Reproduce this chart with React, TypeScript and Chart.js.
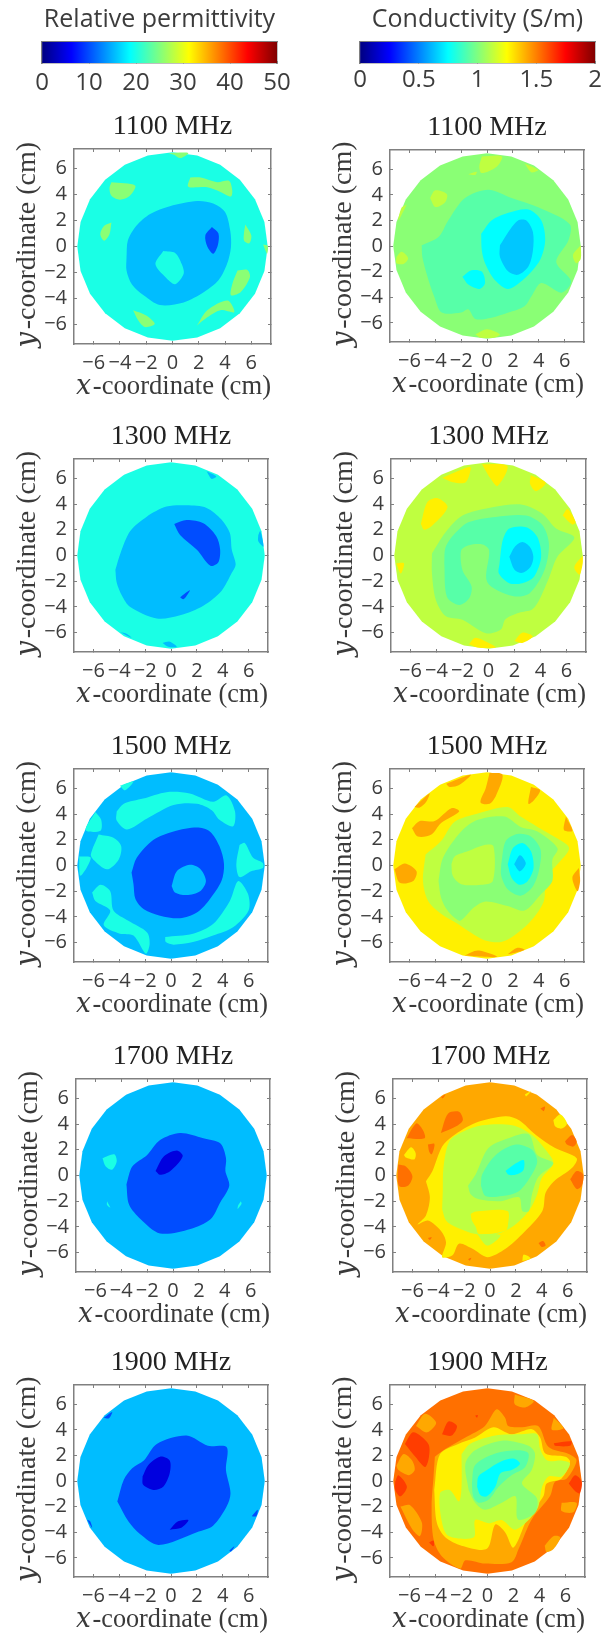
import React, { useEffect, useRef } from "react";
import { Chart, registerables } from "chart.js";

Chart.register(...registerables);

type Pt = [number, number];
type Layer = [number, Pt[]];

const tickValues = [-6, -4, -2, 0, 2, 4, 6];
const permTicks = [0, 10, 20, 30, 40, 50];
const condTicks = [0, 0.5, 1, 1.5, 2];
const jetStops = [0, 0.125, 0.375, 0.625, 0.875, 1];

const rim: Pt[] = [
  [7.25, 0], [7.0, 1.88], [6.28, 3.63], [5.13, 5.13], [3.63, 6.28], [1.88, 7.0], [0, 7.25], [-1.88, 7.0],
  [-3.63, 6.28], [-5.13, 5.13], [-6.28, 3.63], [-7.0, 1.88], [-7.25, 0], [-7.0, -1.88], [-6.28, -3.63],
  [-5.13, -5.13], [-3.63, -6.28], [-1.88, -7.0], [0, -7.25], [1.88, -7.0], [3.63, -6.28], [5.13, -5.13],
  [6.28, -3.63], [7.0, -1.88],
];

// contour levels, relative permittivity
const PD = 4.7, PB = 10, PS = 15.5, PT = 20, PG = 25.5;
// contour levels, conductivity (S/m)
const CS = 0.64, CC = 0.75, CA = 0.92, CG = 1.02, CY = 1.125, CW = 1.28, CO = 1.42, CD = 1.53, CR = 1.63;

const perm1100: Layer[] = [
  [PT, rim],
  [PS, [[-3.5, -0.8], [-3.4, 0.46], [-2.75, 1.6], [-1.7, 2.5], [-0.2, 3.1], [1.9, 3.5], [3.1, 3.3], [4.0, 2.65], [4.4, 1.2], [4.45, -0.05], [4.15, -1.35], [3.5, -2.6], [2.4, -3.5], [0.85, -4.3], [-0.95, -4.5], [-2.2, -3.75], [-3.1, -2.9], [-3.5, -1.85]]],
  [PB, [[3.0, 1.5], [3.5, 1.0], [3.45, 0.1], [3.1, -0.55], [2.65, 0], [2.5, 0.85]]],
  [PT, [[-0.7, -0.35], [0.2, -0.5], [0.7, -1.35], [0.85, -2.1], [0.2, -2.9], [-0.55, -2.35], [-1.3, -1.35]]],
  [PG, [[-0.3, 7.2], [1.2, 7.2], [0.6, 6.8], [0.1, 7.05]]],
  [PG, [[-4.65, 4.95], [-2.85, 4.7], [-3.25, 3.9], [-4.0, 3.6], [-4.65, 3.9], [-4.8, 4.5]]],
  [PG, [[1.35, 5.3], [2.15, 5.3], [3.4, 4.95], [4.3, 5.05], [4.55, 4.3], [4.45, 3.85], [3.65, 4.2], [2.65, 4.55], [1.2, 4.6]]],
  [PG, [[-4.65, 1.85], [-4.8, 0.95], [-5.2, 0.45], [-5.5, 0.95], [-5.2, 1.6]]],
  [PG, [[5.55, 1.7], [6.0, 0.85], [5.85, 0.25], [5.45, 0.45], [5.45, 1.1]]],
  [PG, [[6.9, 0.15], [7.25, 0.05], [7.2, -0.55]]],
  [PG, [[4.95, -1.85], [5.7, -1.8], [5.9, -2.35], [5.2, -3.5], [4.45, -3.75], [4.55, -2.9]]],
  [PG, [[1.85, -6.1], [2.65, -4.9], [4.2, -4.15], [4.7, -5.05], [3.65, -4.9], [2.65, -5.45]]],
  [PG, [[-3, -4.9], [-2, -5.3], [-1.35, -5.95], [-2.1, -6.2], [-2.6, -5.7]]],
];

const cond1100: Layer[] = [
  [CG, rim],
  [CY, [[-0.4, 7], [1.15, 7], [0.75, 6.2], [-0.4, 5.7], [-0.6, 6.2]]],
  [CY, [[2.9, 6.45], [3.95, 5.95], [3.45, 5.75]]],
  [CY, [[-1.45, 5.6], [-0.8, 5.8], [-0.9, 5.55]]],
  [CY, [[-4.4, 3.75], [-4, 4.35], [-3.1, 4.05], [-3.25, 3.4], [-4, 3.05]]],
  [CY, [[-6.2, 3.25], [-6.85, 2.0], [-6.6, 3.0]]],
  [CY, [[-7, -0.85], [-6.6, -0.45], [-6.1, -0.95], [-6.45, -1.4], [-7, -1.35]]],
  [CY, [[7.25, 0.05], [6.65, -0.7], [6.9, -1.35], [7.25, -1]]],
  [CY, [[-0.9, -6.9], [0, -6.5], [1, -6.9], [0.6, -7.15], [-0.55, -7.15]]],
  [CA, [[-5.05, 0.05], [-3.75, 0.7], [-3, 2], [-1.7, 3.75], [0.1, 4.4], [1.9, 3.75], [4, 3], [6.4, 1.7], [6.3, 0.45], [5.35, -1.25], [6.5, -2.75], [5.75, -3.65], [4.2, -2.9], [3.45, -3.9], [2.9, -4.7], [1.65, -5.2], [0.35, -5.6], [-0.9, -5.7], [-1.45, -4.95], [-2, -5.2], [-3.5, -5.2], [-4.1, -3.9], [-4.6, -2.4], [-5, -0.85]]],
  [CC, [[-0.45, 0.95], [0.35, 2], [1.65, 2.6], [3.2, 2.85], [4.2, 2], [4.5, 0.45], [4.1, -1.1], [3.05, -2.4], [1.65, -3.35], [0.6, -2.65], [-0.15, -1.35], [-0.4, -0.35]]],
  [CS, [[1, 0.05], [1.65, 1.1], [2.4, 2], [3.05, 2], [3.55, 1.1], [3.55, -0.35], [3.2, -1.6], [2.4, -2.25], [1.65, -2], [1, -0.85]]],
  [CC, [[-1.9, -2.4], [-1.2, -1.9], [-0.4, -2], [-0.15, -2.9], [-0.55, -3.35], [-1.45, -3]]],
];

const perm1300: Layer[] = [
  [PT, rim],
  [PS, [[-4.3, -1.1], [-3.9, 0.2], [-3.15, 1.9], [-1.9, 3], [-0.35, 3.8], [1.2, 3.9], [2.75, 3.7], [3.9, 2.8], [4.55, 1.75], [4.7, 0.45], [5, -0.7], [4.7, -1.35], [3.9, -2.75], [2.5, -3.9], [0.7, -4.65], [-1.1, -4.9], [-3.15, -4], [-3.8, -3.1], [-4.2, -2.1]]],
  [PB, [[0.25, 2.45], [1.2, 2.75], [2.5, 2.5], [3.5, 1.5], [3.8, 0.45], [3.65, -0.55], [3.05, -0.8], [2, 0.45], [0.7, 1.6]]],
  [PB, [[0.7, -3.25], [1.45, -2.7], [1.2, -3.15], [0.95, -3.4]]],
  [PS, [[2.75, 6.55], [3.5, 6.15], [3.15, 5.95]]],
  [PS, [[6.75, 1.6], [6.9, 1.9], [7.15, 0.7], [6.75, 1.1]]],
  [PS, [[-3.95, -5.95], [-3.4, -6.1], [-3.05, -6.4]]],
  [PS, [[-0.65, -6.8], [-0.1, -6.7], [0.45, -7.1], [-0.2, -7.1]]],
];

const cond1300: Layer[] = [
  [CY, rim],
  [CW, [[-3.55, 6.05], [-1.5, 6.9], [-1.35, 6.8], [-1.75, 5.7], [-2.75, 5.7]]],
  [CW, [[-0.5, 7.1], [1.45, 6.95], [0.7, 5.4], [0.2, 5.9]]],
  [CW, [[3.25, 6.25], [4.4, 5.65], [3.65, 5], [3.2, 5.55]]],
  [CW, [[-5.2, 2.45], [-4.7, 4.15], [-3.9, 4.45], [-3.15, 3.75], [-4.3, 2.35], [-4.95, 2]]],
  [CW, [[5.7, 3.1], [6.1, 3.6], [6.7, 2.6], [6.45, 2.4]]],
  [CW, [[-7.1, -0.6], [-6.5, -0.6], [-6.75, -1.4]]],
  [CW, [[7.25, 0], [6.6, -0.9], [7, -1.5], [7.25, -0.6]]],
  [CW, [[-1.5, -6.9], [-1, -6.4], [0.2, -6.9], [0.55, -7.15], [-0.85, -7.15]]],
  [CW, [[2, -6.65], [2.6, -6], [3.4, -6.3], [2.6, -6.8]]],
  [CG, [[-4.35, 0.15], [-3.3, 1.8], [-2, 3.1], [0.3, 3.75], [2.6, 3.95], [4.15, 3.25], [5.2, 2.1], [6.6, 1.4], [5.3, -0.1], [4.65, -1.75], [3.9, -3.45], [3.35, -4.2], [2.35, -4.45], [1.3, -4.95], [0.95, -5.75], [-0.2, -6.05], [-2, -5], [-3.3, -4.7], [-4.05, -3.45], [-4.35, -1.4]]],
  [CA, [[-3.4, -0.6], [-3.3, 0.65], [-2.5, 1.8], [-1.5, 2.6], [0.55, 3.0], [2.9, 3.1], [4.15, 2.35], [4.65, 0.9], [4.3, -1.15], [3.15, -2.95], [1.85, -3.15], [-0.1, -2.05], [0.05, 0.4], [-0.45, 0.85], [-1.5, 0.8], [-2.1, 0.4], [-2, -1.15], [-1.3, -2.4], [-1.5, -3.35], [-2.25, -3.85], [-3.2, -3.2]]],
  [CC, [[0.85, -0.6], [1.1, 1.2], [1.6, 2.1], [2.9, 2.2], [3.75, 1.45], [4.05, -0.1], [3.5, -1.65], [2.6, -2.15], [1.6, -2.15], [0.8, -1.4]]],
  [CS, [[1.6, -0.1], [2, 0.65], [2.6, 1.05], [3.2, 0.65], [3.45, -0.1], [3.25, -0.85], [2.6, -1.35], [2, -1.1]]],
];

const perm1500: Layer[] = [
  [PS, rim],
  [PT, [[-4.2, 4.2], [-3.65, 4.8], [-2.15, 5.2], [-0.35, 5.7], [1.45, 5.6], [3.25, 4.95], [4.3, 5.45], [4.95, 4.2], [4.8, 3.05], [3.75, 3.55], [3.15, 4.3], [2, 4.8], [0.2, 4.7], [-1.85, 3.65], [-3.4, 2.8], [-4.2, 3.5]]],
  [PT, [[-3.95, 6.2], [-2.9, 6.55], [-3.55, 5.85]]],
  [PT, [[-5.85, 4.15], [-5.4, 3.55], [-5.45, 2.7], [-6.6, 2.75]]],
  [PT, [[-5.6, 2.4], [-4.45, 2.15], [-3.85, 1.5], [-4.05, 0.45], [-4.95, -0.3], [-6, 0.45], [-6.2, 0.85]]],
  [PT, [[-7.1, 0.7], [-6.2, 0.6], [-7, -0.8]]],
  [PT, [[-6.1, -2.1], [-5.45, -1.5], [-4.7, -2], [-4.45, -3.5], [-3.3, -4.3], [-1.85, -5.2], [-1.65, -6.1], [-1.95, -6.85], [-2.9, -5.45], [-3.95, -5.3], [-5.2, -4.65], [-4.7, -3.5], [-5.85, -2.75]]],
  [PT, [[-0.45, -5.55], [1.7, -5.3], [3.25, -4.55], [4.55, -2.75], [5.2, -1.2], [5.95, -2.2], [6, -3.5], [4.8, -4.8], [3.25, -5.45], [1.7, -5.95], [0.2, -6.15], [-0.4, -5.95]]],
  [PT, [[5.3, 1.6], [5.7, 1.75], [6.35, 0.6], [7.1, 0.2], [7.1, -0.2], [6.2, -0.45], [5.3, -0.9], [5.05, 0.1]]],
  [PB, [[-3.05, -0.55], [-2.65, 0.6], [-1.35, 2], [0.2, 2.65], [2, 2.95], [3, 2.65], [3.75, 1.5], [4.1, 0.1], [3.9, -1.2], [2.9, -2.75], [2, -3.65], [0.7, -4.1], [-0.85, -3.9], [-2.1, -3.4], [-2.75, -2.6], [-2.9, -1.45]]],
  [PS, [[0.05, -1.6], [0.45, -0.45], [1.45, 0.05], [2.25, -0.25], [2.7, -1.2], [2.25, -2], [1.2, -2.3], [0.3, -2.1]]],
];

const cond1500: Layer[] = [
  [CW, rim],
  [CO, [[-3.15, 6.35], [-1.25, 7.05], [-2.15, 6.25], [-2.9, 6.1]]],
  [CO, [[0.2, 7.2], [1.2, 7.05], [0.7, 5.45], [0.2, 4.8], [-0.5, 4.9], [-0.1, 6]]],
  [CO, [[3.4, 6.1], [4.1, 5.85], [3.65, 5.1], [3.2, 4.8]]],
  [CO, [[-5.6, 4.55], [-4.45, 5.6], [-4.7, 4.95], [-5.2, 4.5]]],
  [CO, [[-5.8, 2.9], [-5.2, 3.45], [-4.05, 3.45], [-2.75, 4.45], [-2.15, 4.2], [-3.55, 3.3], [-4.3, 2.4], [-5.35, 2.25]]],
  [CO, [[6.1, 3.8], [6.6, 2.7], [5.95, 2.75]]],
  [CO, [[-7.15, -0.3], [-6.35, 0.15], [-5.45, -0.45], [-5.7, -1.2], [-6.75, -1.35]]],
  [CO, [[7.1, -0.2], [6.6, -0.95], [7, -2], [7.2, -1.2]]],
  [CO, [[-1.75, -7], [-0.7, -6.6], [0.8, -7.1], [-0.95, -7.05]]],
  [CO, [[1.6, -6.9], [2.35, -6.4], [2.9, -6.55], [2.1, -6.8]]],
  [CY, [[-4.75, 0.85], [-3.55, 1.9], [-2.5, 3.4], [-0.7, 4.05], [1.6, 4.55], [2.6, 3.8], [3.9, 3], [5.45, 2.1], [6.35, 1.35], [5.45, 0.1], [4.55, -0.95], [4.4, -2.75], [3.4, -4.3], [2.1, -5.45], [1.1, -5.95], [-0.2, -5.8], [-1.5, -5.05], [-2.25, -4.55], [-3.55, -3.75], [-4.55, -2.75], [-4.95, -1.2]]],
  [CG, [[-3.75, -1.2], [-3.4, 0.6], [-2, 2.65], [-0.7, 3.55], [1.35, 3.8], [2.6, 3], [3.9, 2.65], [5.45, 1.35], [5.05, 0.45], [5.05, -1.2], [4.15, -2.25], [2.9, -3.5], [1.6, -3.15], [-0.1, -2.8], [-1, -3.25], [-1.75, -4.05], [-2.15, -4.3], [-3.05, -3.5], [-3.55, -2.5]]],
  [CY, [[-2.75, 0.1], [-2.5, 0.7], [-1.5, 1.1], [-0.2, 1.6], [0.5, 1.5], [0.45, -1.2], [-0.45, -1.5], [-2, -1.45], [-2.65, -0.8]]],
  [CA, [[1.1, 0.1], [1.45, 1.9], [2.35, 2.45], [3.4, 2.25], [4.15, 1.2], [4, -0.45], [3.5, -1.7], [2.6, -2.35], [1.6, -1.85], [1.1, -0.8]]],
  [CC, [[1.6, 0.1], [2, 1.35], [2.75, 1.75], [3.4, 1.1], [3.6, -0.2], [3.15, -1.2], [2.5, -1.5], [1.9, -0.95]]],
  [CS, [[2.1, 0.1], [2.55, 0.8], [3, 0.2], [2.75, -0.3], [2.5, -0.45]]],
];

const perm1700: Layer[] = [
  [PS, rim],
  [PB, [[-3.6, -0.7], [-3.15, 0.7], [-2, 1.6], [-1, 2.75], [0.55, 3.3], [2.35, 2.9], [3.65, 2.5], [4.1, 1.35], [4.05, 0.35], [4.35, -0.8], [3.65, -2.1], [2.9, -3.4], [1.35, -4.15], [-1, -4.5], [-2.5, -3.4], [-3.4, -2.25]]],
  [PD, [[-1.35, 0.35], [-0.7, 1.5], [0.3, 1.95], [0.75, 1.5], [-0.2, 0.35], [-1, 0.05]]],
  [PT, [[-5.45, 1.35], [-4.55, 1.65], [-4.35, 1.1], [-4.7, 0.45], [-5.2, 0.7]]],
  [PT, [[-5.1, -2], [-5, -2.2], [-4.85, -2.5], [-5.1, -2.3]]],
  [PT, [[5.25, -2], [5.3, -2.2], [5, -2.6], [5.05, -2.3]]],
];

const cond1700: Layer[] = [
  [CO, rim],
  [CD, [[-3.8, 3.3], [-3.25, 4.8], [-2.4, 4.95], [-2.1, 4.3], [-2.65, 3.8]]],
  [CD, [[-6.45, 2.9], [-5.7, 4.05], [-5.2, 3.55], [-5.05, 2.9]]],
  [CD, [[-4.8, 2.4], [-4.3, 2.45], [-4.5, 1.65], [-4.7, 1.85]]],
  [CD, [[-7.1, 0.85], [-6.5, 0.7], [-6, -0.05], [-6.35, -0.8], [-7.05, -0.8]]],
  [CD, [[5.8, 2.65], [6.35, 3.15], [6.7, 2.65], [6.45, 2.25], [5.95, 2.4]]],
  [CD, [[6.2, -0.3], [6.7, 0.35], [7.2, 0.1], [7.1, -0.8], [6.7, -1.05]]],
  [CD, [[3.9, 5.2], [4.25, 5.35], [4.15, 5]]],
  [CD, [[-3.8, 6.1], [-3.45, 6.3], [-3.65, 6]]],
  [CD, [[-4.8, -4.85], [-4.5, -4.8], [-4.65, -5]]],
  [CD, [[3.75, -5.25], [4.1, -5.1], [4.3, -5.45], [4, -5.55]]],
  [CD, [[-1.7, -6.5], [-1.45, -6.4], [-1.55, -6.6]]],
  [CW, [[-6.65, 1.6], [-6.1, 2.2], [-5.75, 1.75], [-5.85, 1.25], [-6.5, 1.4]]],
  [CW, [[4.9, 4.3], [5.45, 4.75], [5.95, 4.05], [5.55, 3.65], [5.05, 3.8]]],
  [CW, [[2.7, 6.3], [3.15, 6.55], [2.8, 6.15]]],
  [CW, [[2.5, -6.65], [2.6, -6.15], [3.15, -6.45]]],
  [CW, [[-4.95, -0.45], [-4.45, 0.35], [-3.7, 2.25], [-2.9, 3.05], [-1.1, 4.1], [1.2, 4.6], [2.25, 4.3], [3.55, 3.15], [5, 2.15], [6.7, 1.35], [6.35, 0.6], [4.95, -0.45], [4.3, -1.35], [4.05, -2.75], [2.5, -4.55], [1.2, -5.7], [-0.2, -6.35], [-1.35, -5.7], [-2.4, -5.3], [-2.9, -6.2], [-3.7, -6.35], [-3.4, -5.2], [-3.8, -4.3], [-4.8, -3.5], [-5.6, -3.8], [-4.95, -3.1], [-4.65, -1.7]]],
  [CY, [[-3.7, -2.6], [-3.65, -1.2], [-3.6, 0.6], [-3.15, 2.65], [-2.1, 3.4], [-0.6, 3.9], [1.7, 3.9], [3.25, 3.15], [4.3, 2], [4.9, 0.95], [4, -0.2], [3.65, -1.45], [3, -2.75], [1.7, -4], [0.45, -4.55], [-1.1, -4.55], [-2.65, -4], [-3.4, -3.5]]],
  [CW, [[-1.5, -3], [-1.1, -2.8], [1.35, -2.75], [1.4, -3.75], [1.2, -4.3], [-0.85, -4.55], [-1.1, -4], [-1.4, -3.5]]],
  [CY, [[-1, -4.55], [0.8, -4.65], [-0.2, -5.45]]],
  [CG, [[-1.7, -0.8], [-1.1, 0.1], [-0.1, 2.15], [1.7, 3.0], [3, 3.2], [3.65, 1.6], [4.9, 0.95], [3.75, -0.1], [3.25, -1.45], [3, -2.75], [2.5, -2.75], [2.25, -1.7], [0.8, -2], [-0.85, -1.85], [-1.5, -1.45]]],
  [CA, [[-0.7, -0.8], [-0.6, 0.1], [0.45, 1.6], [2, 2.4], [3.25, 2], [3.65, 1.1], [3.25, 0.1], [2.25, -1.2], [0.95, -1.6], [-0.35, -1.6]]],
  [CC, [[1.2, 0.35], [2, 0.95], [2.6, 1.2], [2.6, 0.45], [2.1, 0.1], [1.45, 0.05]]],
];

const perm1900: Layer[] = [
  [PS, rim],
  [PB, [[-4.15, -1.6], [-3.65, 0.1], [-3, 1], [-2.1, 1.6], [-1.1, 2.9], [1.2, 3.55], [2.85, 2.75], [4.3, 2.65], [4.25, 0.85], [4.6, -0.95], [4.3, -2], [3.25, -3.5], [2, -4], [-0.95, -5], [-2.4, -4.15], [-3.3, -3.15]]],
  [PD, [[-2.2, 0.35], [-1.75, 1.25], [-0.85, 1.9], [-0.1, 1.6], [-0.1, 0.6], [-0.6, -0.45], [-1.35, -0.7], [-2.15, -0.3]]],
  [PD, [[-0.1, -3.8], [0.55, -3.15], [1.35, -3.05], [0.8, -3.65]]],
  [PB, [[-5.2, 4.95], [-4.55, 5.4], [-4.8, 4.9]]],
  [PB, [[-6.5, -3], [-6.25, -3.15], [-6.1, -3.65]]],
  [PB, [[6.25, -2.75], [6.7, -2.25], [6.6, -2.75]]],
  [PB, [[4.5, -5.45], [4.9, -5.1], [4.65, -5.5]]],
];

const cond1900: Layer[] = [
  [CD, rim],
  [CR, [[-6.35, 2.9], [-5.7, 3.8], [-4.55, 2.9], [-4.5, 1.9], [-4.8, 1.1], [-5.55, 1.9]]],
  [CR, [[-7.1, -0.05], [-6.85, 0.45], [-6.2, -0.45], [-6.7, -1.2], [-7.1, -0.7]]],
  [CR, [[6.25, -0.2], [6.75, 0.45], [7.25, -0.05], [7.1, -0.95], [6.75, -0.8]]],
  [CR, [[-3.5, 3.65], [-3, 4.65], [-2.35, 4.3], [-2.75, 3.55]]],
  [CR, [[5.1, 2.95], [6.45, 3.1], [6.35, 2.75], [5.2, 2.75]]],
  [CR, [[-4.5, -4.8], [-4.15, -4.65], [-4.15, -5.1]]],
  [CR, [[-0.95, 5.1], [-0.75, 5.15], [-0.8, 4.95]]],
  [CO, [[-5.5, 4.3], [-4.8, 5.25], [-3.95, 4.55], [-4.65, 3.8]]],
  [CO, [[-7, 1.2], [-6.45, 2.1], [-5.8, 1.6], [-5.6, 0.85], [-6.05, 0.45], [-6.85, 0.85]]],
  [CO, [[2.1, 6.75], [3.55, 6.25], [2.9, 5.75], [2.1, 6]]],
  [CO, [[5.1, 4.95], [5.85, 4.15], [4.95, 4]]],
  [CO, [[-6.7, -2], [-5.95, -1.9], [-5.05, -3.25], [-5.2, -4.3], [-5.8, -3.75]]],
  [CO, [[5.7, -1.7], [6.85, -1.7], [6.6, -2.45], [5.7, -2.35]]],
  [CO, [[4.4, -5.05], [5.1, -4.3], [5.6, -4.4], [5.1, -5.3], [4.55, -5.55]]],
  [CO, [[-4.05, 1.9], [-3.25, 2.5], [-1.7, 3.4], [-0.2, 4.3], [0.7, 5.6], [1.35, 4.95], [1.6, 4.3], [2.65, 4.2], [3.9, 4.3], [4.7, 2.65], [6.25, 2.1], [6.85, 1.6], [6.1, 0.2], [5.2, -0.05], [4.8, -1.2], [3.4, -3], [2.4, -5.3], [1.85, -6.35], [-0.2, -6.45], [-1.7, -6.2], [-2.1, -6.85], [-3.5, -5.9], [-4.15, -4.55], [-4.3, -2], [-4.15, 0.35]]],
  [CW, [[-4.1, -0.7], [-3.65, 2.1], [-2.25, 2.9], [-0.95, 3.4], [0.45, 4.2], [1.85, 3.65], [3.4, 4.05], [4.05, 3.4], [4.45, 2.15], [6, 1.9], [6.35, 1.5], [5.7, 0.2], [4.55, -0.2], [4.3, -1.2], [3.15, -2.75], [2, -5.2], [1.35, -4], [0.6, -3.4], [-0.05, -5.3], [-2, -5.05], [-3.25, -4.4], [-3.9, -3.25]]],
  [CY, [[-2, 2.1], [-1.35, 2.9], [0.6, 3.55], [2.65, 3.65], [3.8, 3.65], [4.05, 2.5], [4.6, 1.6], [5.7, 1.6], [6.35, 1.35], [5.7, 0.35], [4.7, 0.35], [4.2, -0.45], [3.8, -2.25], [2.15, -3.8], [1.1, -3.05], [0.1, -3.3], [-0.95, -3.05], [-1.05, -4.4], [-3, -4.3], [-3.5, -3.25], [-3.65, -0.95], [-2.9, -0.7], [-2.2, -1.6], [-2, -0.5]]],
  [CG, [[-1.45, -0.7], [-1.7, 1.35], [-0.95, 2.4], [1.1, 3.15], [3.15, 2.75], [3.65, 2.15], [3.4, 0.85], [2.65, -0.2], [3.8, -1.35], [3.65, -2.5], [2.35, -3], [2.15, -1.2], [1.1, -1.7], [-0.2, -2.25], [-0.95, -1.7]]],
  [CA, [[-1.2, -0.2], [-0.95, 1.25], [0.6, 2.15], [2.4, 2.4], [3.15, 2.15], [2.9, 1.1], [1.85, 0.45], [0.85, -0.45], [0.1, -1.45], [-0.7, -1.7], [-1.1, -1.2]]],
  [CC, [[-0.8, -0.45], [-0.7, 0.35], [-0.05, 0.85], [1, 1.5], [2, 1.75], [2.5, 1.35], [1.85, 0.85], [1, 0.6], [0.6, -0.45], [-0.05, -1.2], [-0.55, -1.1]]],
];

const AXIS_COLOR = "#808080";
const TEXT_COLOR = "#3c3c3c";
const SERIF = "'Liberation Serif', 'DejaVu Math TeX Gyre', 'STIX Two Math', serif";
const SANS = "'Open Sans', sans-serif";
const MARGIN_X = 61;
const TITLE_H = 37;
const BOTTOM_H = 58;

const clamp = (v: number) => Math.max(0, Math.min(1, v));
function jet(t: number) {
  const r = clamp(Math.min(4 * t - 1.5, -4 * t + 4.5));
  const g = clamp(Math.min(4 * t - 0.5, -4 * t + 3.5));
  const b = clamp(Math.min(4 * t + 0.5, -4 * t + 2.5));
  return `rgb(${Math.round(r * 255)},${Math.round(g * 255)},${Math.round(b * 255)})`;
}

const minus = (v: number) => (v < 0 ? "\u2212" + -v : String(v));

function frame(values: number[], min: number, max: number, tick: number) {
  return {
    min,
    max,
    border: { color: AXIS_COLOR, width: 1.5 },
    grid: { drawOnChartArea: false, tickLength: -tick, color: AXIS_COLOR, lineWidth: 1 },
    afterBuildTicks: (s: any) => {
      s.ticks = values.map((value) => ({ value }));
    },
  };
}

function contourConfig(layers: Layer[], vmax: number, title: string): any {
  return {
    type: "scatter",
    data: {
      datasets: layers.map(([level, pts], i) => ({
        data: [...pts, pts[0]].map(([x, y]) => ({ x, y })),
        showLine: true,
        fill: "shape",
        order: layers.length - i,
        backgroundColor: jet(level / vmax),
        borderColor: jet(level / vmax),
        borderWidth: 0,
        pointRadius: 0,
        tension: pts === rim ? 0 : 0.3,
      })),
    },
    options: {
      animation: false,
      responsive: false,
      layout: { padding: 0 },
      plugins: {
        legend: { display: false },
        tooltip: { enabled: false },
        title: {
          display: true,
          text: title,
          color: "#222",
          font: { family: SERIF, size: 28, weight: "normal", lineHeight: "30px" },
          padding: { top: 0, bottom: 7 },
        },
      },
      scales: {
        x: {
          type: "linear",
          position: "bottom",
          ...frame(tickValues, -7.5, 7.5, 3),
          afterFit: (s: any) => { s.height = BOTTOM_H; },
          ticks: { callback: (v: number) => minus(v), autoSkip: false, maxRotation: 0, padding: 10, color: TEXT_COLOR, font: { family: SANS, size: 20 } },
          title: { display: true, text: "\u{1D465}-coordinate (cm)", color: "#3a3a3a", padding: 0, font: { family: SERIF, size: 28, lineHeight: "30px" } },
        },
        y: {
          type: "linear",
          position: "left",
          ...frame(tickValues, -7.5, 7.5, 3),
          afterFit: (s: any) => { s.width = MARGIN_X; },
          ticks: { callback: (v: number) => minus(v), autoSkip: false, padding: 10, color: TEXT_COLOR, font: { family: SANS, size: 20 } },
          title: { display: true, text: "\u{1D466}-coordinate (cm)", color: "#3a3a3a", padding: 0, font: { family: SERIF, size: 28, lineHeight: "30px" } },
        },
        xTop: {
          type: "linear",
          position: "top",
          ...frame(tickValues, -7.5, 7.5, 3),
          afterFit: (s: any) => { s.height = 0; },
          ticks: { display: false },
        },
        yRight: {
          type: "linear",
          position: "right",
          ...frame(tickValues, -7.5, 7.5, 3),
          afterFit: (s: any) => { s.width = MARGIN_X; },
          ticks: { display: false },
        },
      },
    },
  };
}

function colorbarConfig(title: string, values: number[], vmax: number, pad: number): any {
  return {
    type: "bar",
    data: {
      labels: [title],
      datasets: [
        {
          data: [vmax],
          barPercentage: 1,
          categoryPercentage: 1,
          backgroundColor: (c: any) => {
            const area = c.chart.chartArea;
            if (!area) return "#000";
            const g = c.chart.ctx.createLinearGradient(area.left, 0, area.right, 0);
            jetStops.forEach((s) => g.addColorStop(s, jet(s)));
            return g;
          },
        },
      ],
    },
    options: {
      indexAxis: "y",
      animation: false,
      responsive: false,
      plugins: {
        legend: { display: false },
        tooltip: { enabled: false },
        title: {
          display: true,
          text: title,
          color: TEXT_COLOR,
          font: { family: "'Open Sans', sans-serif", size: 25, weight: "normal", lineHeight: "30px" },
          padding: { top: 0, bottom: 7 },
        },
      },
      scales: {
        x: {
          type: "linear",
          position: "bottom",
          ...frame(values, 0, vmax, 2),
          afterFit: (s: any) => { s.height = 36; },
          ticks: { callback: (v: number) => String(v), autoSkip: false, maxRotation: 0, padding: pad, color: TEXT_COLOR, font: { family: "'Open Sans', sans-serif", size: 24 } },
        },
        y: {
          position: "left",
          border: { color: AXIS_COLOR, width: 1.5 },
          grid: { display: false },
          ticks: { display: false },
          afterFit: (s: any) => { s.width = 30; },
        },
        xTop: {
          type: "linear",
          position: "top",
          ...frame([], 0, vmax, 2),
          afterFit: (s: any) => { s.height = 0; },
          ticks: { display: false },
        },
        yRight: {
          type: "linear",
          position: "right",
          ...frame([], 0, 1, 2),
          afterFit: (s: any) => { s.width = 30; },
          ticks: { display: false },
        },
      },
    },
  };
}

function Canvas({ left, top, width, height, config }: any) {
  const ref = useRef<HTMLCanvasElement>(null);
  useEffect(() => {
    const chart = new Chart(ref.current as HTMLCanvasElement, config);
    return () => chart.destroy();
  }, []);
  return (
    <canvas
      ref={ref}
      width={width}
      height={height}
      style={{ position: "absolute", left, top, width, height }}
    />
  );
}

const panels = [
  { layers: perm1100, vmax: 50, title: "1100 MHz", x0: 74, x1: 271, y0: 149, y1: 344 },
  { layers: cond1100, vmax: 2, title: "1100 MHz", x0: 390, x1: 584, y0: 150, y1: 342 },
  { layers: perm1300, vmax: 50, title: "1300 MHz", x0: 74, x1: 268, y0: 459, y1: 652 },
  { layers: cond1300, vmax: 2, title: "1300 MHz", x0: 391, x1: 586, y0: 459, y1: 652 },
  { layers: perm1500, vmax: 50, title: "1500 MHz", x0: 74, x1: 268, y0: 769, y1: 962 },
  { layers: cond1500, vmax: 2, title: "1500 MHz", x0: 390, x1: 584, y0: 769, y1: 962 },
  { layers: perm1700, vmax: 50, title: "1700 MHz", x0: 76, x1: 270, y0: 1079, y1: 1272 },
  { layers: cond1700, vmax: 2, title: "1700 MHz", x0: 393, x1: 587, y0: 1079, y1: 1272 },
  { layers: perm1900, vmax: 50, title: "1900 MHz", x0: 74, x1: 268, y0: 1385, y1: 1577 },
  { layers: cond1900, vmax: 2, title: "1900 MHz", x0: 390, x1: 585, y0: 1385, y1: 1577 },
];

export default function App() {
  return (
    <div style={{ position: "absolute", left: 0, top: 0, width: 613, height: 1634, overflow: "hidden", background: "#fff", filter: "blur(0.5px)" }}>
      <Canvas left={12} top={5} width={295} height={94} config={colorbarConfig("Relative permittivity", permTicks, 50, 8)} />
      <Canvas left={330} top={5} width={295} height={94} config={colorbarConfig("Conductivity (S/m)", condTicks, 2, 5)} />
      {panels.map((p) => (
        <Canvas
          key={p.title + p.vmax}
          left={p.x0 - MARGIN_X}
          top={p.y0 - TITLE_H}
          width={p.x1 - p.x0 + 2 * MARGIN_X}
          height={p.y1 - p.y0 + TITLE_H + BOTTOM_H}
          config={contourConfig(p.layers, p.vmax, p.title)}
        />
      ))}
    </div>
  );
}
